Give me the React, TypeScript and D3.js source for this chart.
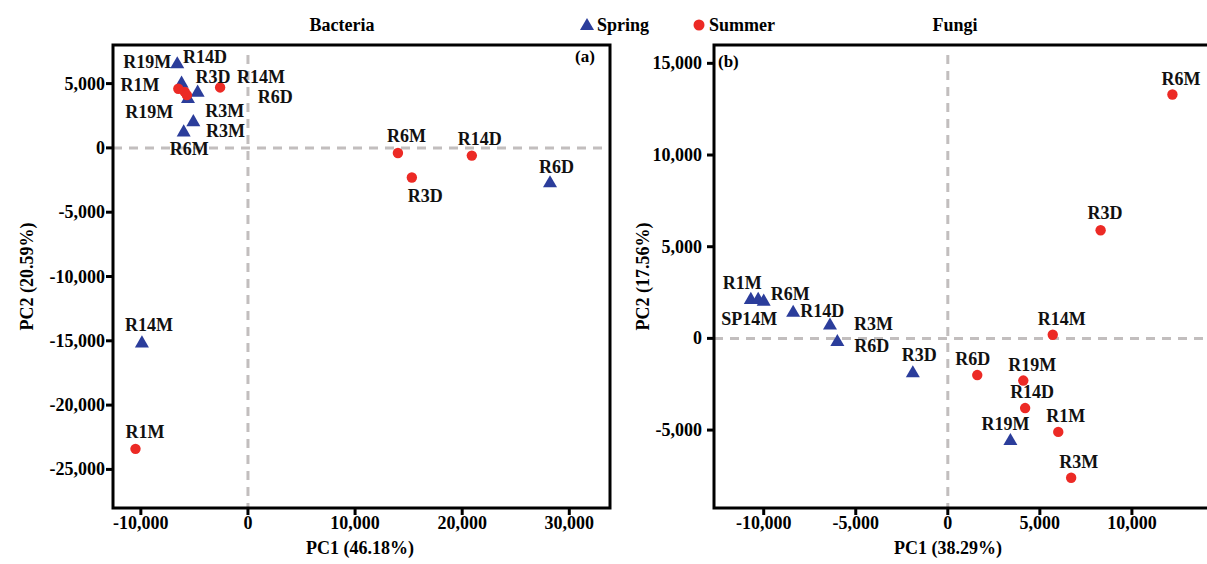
import React from "react";
import * as d3 from "d3";

// ---------- DATA ----------
const bacSpringNames = ["R19M", "R1M", "R3D", "R14D", "R3M", "R6M", "R6D", "R14M"];
const bacSpringX = [-6600, -6200, -4700, -5600, -5100, -6000, 28200, -9900];
const bacSpringY = [6500, 5000, 4300, 3800, 2000, 1200, -2750, -15200];

const bacSummerNames = ["R19M", "R6D", "R3M", "R14M", "R6M", "R3D", "R14D", "R1M"];
const bacSummerX = [-6500, -5900, -5700, -2600, 14000, 15300, 20900, -10500];
const bacSummerY = [4600, 4350, 4100, 4700, -400, -2300, -600, -23400];

const funSpringNames = ["R1M", "SP14M", "R6M", "R14D", "R3M", "R6D", "R3D", "R19M"];
const funSpringX = [-10700, -10300, -10000, -8400, -6400, -6000, -1900, 3400];
const funSpringY = [2100, 2100, 2000, 1400, 700, -200, -1900, -5600];

const funSummerNames = ["R6M", "R3D", "R14M", "R6D", "R19M", "R14D", "R1M", "R3M"];
const funSummerX = [12200, 8300, 5700, 1600, 4100, 4200, 6000, 6700];
const funSummerY = [13300, 5900, 200, -2000, -2300, -3800, -5100, -7600];

const bacXTicks = [-10000, 0, 10000, 20000, 30000];
const bacYTicks = [5000, 0, -5000, -10000, -15000, -20000, -25000];
const funXTicks = [-10000, -5000, 0, 5000, 10000];
const funYTicks = [15000, 10000, 5000, 0, -5000];

const seriesNames = ["Spring", "Summer"];
const panelTitles = ["Bacteria", "Fungi"];
const panelTags = ["(a)", "(b)"];
const xTitles = ["PC1 (46.18%)", "PC1 (38.29%)"];
const yTitles = ["PC2 (20.59%)", "PC2 (17.56%)"];

// label offsets (px) relative to each point: [dx (left edge), dy (baseline)]
const bacSpringLab = [[-54, 4], [-61, 7], [-2, -10], [-5, -36], [12, -5], [-14, 23], [-11, -10], [-17, -12]];
const bacSummerLab = [[-53, 29], [73, 11], [19, 42], [17, -4], [-11, -11], [-4, 25], [-14, -11], [-10, -11]];
const funSpringLab = [[-28, -11], [-37, 25], [7, -2], [7, 4], [24, 4], [17, 10], [-11, -12], [-29, -11]];
const funSummerLab = [[-11, -10], [-13, -11], [-15, -10], [-22, -10], [-15, -10], [-15, -10], [-12, -10], [-12, -10]];

// ---------- STYLE ----------
const FONT = "'Liberation Serif', 'Times New Roman', serif";
const BLUE = "#2b3d9b";
const RED = "#ec2a25";
const DASH = "#c2bebe";

const fmt = d3
  .formatLocale({ decimal: ".", thousands: ",", grouping: [3], currency: ["$", ""], minus: "-" })
  .format(",");

const triPath = d3.symbol(d3.symbolTriangle, 85)() as string;

type Pt = { name: string; x: number; y: number; lab: number[] };

function build(names: string[], xs: number[], ys: number[], labs: number[][]): Pt[] {
  return names.map((n, i) => ({ name: n, x: xs[i], y: ys[i], lab: labs[i] }));
}

function Panel(props: {
  x0: number; x1: number; y0: number; y1: number;
  xDom: [number, number]; yDom: [number, number];
  xTicks: number[]; yTicks: number[];
  spring: Pt[]; summer: Pt[];
  xTitle: string; yTitle: string; yTitleX: number; xTitleX: number;
  tag: string; tagX: number; tagY: number; yLabEnd: number;
}) {
  const p = props;
  const xs = d3.scaleLinear().domain(p.xDom).range([p.x0, p.x1]);
  const ys = d3.scaleLinear().domain(p.yDom).range([p.y1, p.y0]);
  const zx = xs(0);
  const zy = ys(0);
  return (
    <g>
      {/* zero lines */}
      <line x1={p.x0} x2={p.x1} y1={zy} y2={zy} stroke={DASH} strokeWidth={3} strokeDasharray="9,7" />
      <line x1={zx} x2={zx} y1={p.y0 + 10} y2={p.y1} stroke={DASH} strokeWidth={3} strokeDasharray="9,7" />
      {/* frame */}
      <rect x={p.x0} y={p.y0} width={p.x1 - p.x0} height={p.y1 - p.y0} fill="none" stroke="#000" strokeWidth={3} />
      {/* y ticks */}
      {p.yTicks.map((t) => (
        <g key={"y" + t}>
          <line x1={p.x0 - 7} x2={p.x0} y1={ys(t)} y2={ys(t)} stroke="#000" strokeWidth={3} />
          <text x={p.yLabEnd} y={ys(t) + 6} textAnchor="end" fontSize={18} fontWeight="bold" fontFamily={FONT}>
            {fmt(t)}
          </text>
        </g>
      ))}
      {/* x ticks */}
      {p.xTicks.map((t) => (
        <g key={"x" + t}>
          <line x1={xs(t)} x2={xs(t)} y1={p.y1} y2={p.y1 + 7} stroke="#000" strokeWidth={3} />
          <text x={xs(t)} y={p.y1 + 21} textAnchor="middle" fontSize={18} fontWeight="bold" fontFamily={FONT}>
            {fmt(t)}
          </text>
        </g>
      ))}
      {/* points */}
      {p.spring.map((d, i) => (
        <path key={"s" + i} d={triPath} transform={`translate(${xs(d.x)},${ys(d.y)})`} fill={BLUE} />
      ))}
      {p.summer.map((d, i) => (
        <circle key={"m" + i} cx={xs(d.x)} cy={ys(d.y)} r={5.2} fill={RED} />
      ))}
      {/* labels */}
      {[...p.spring, ...p.summer].map((d, i) => (
        <text key={"l" + i} x={xs(d.x) + d.lab[0]} y={ys(d.y) + d.lab[1]} fontSize={18} fontWeight="bold" fontFamily={FONT} fill="#111">
          {d.name}
        </text>
      ))}
      {/* tag */}
      <text x={p.tagX} y={p.tagY} fontSize={17} fontWeight="bold" fontFamily={FONT}>{p.tag}</text>
      {/* axis titles */}
      <text x={p.xTitleX} y={p.y1 + 46} textAnchor="middle" fontSize={18} fontWeight="bold" fontFamily={FONT}>
        {p.xTitle}
      </text>
      <text
        transform={`translate(${p.yTitleX},${(p.y0 + p.y1) / 2}) rotate(-90)`}
        textAnchor="middle"
        fontSize={18}
        fontWeight="bold"
        fontFamily={FONT}
      >
        {p.yTitle}
      </text>
    </g>
  );
}

export default function App() {
  const bs = build(bacSpringNames, bacSpringX, bacSpringY, bacSpringLab);
  const bm = build(bacSummerNames, bacSummerX, bacSummerY, bacSummerLab);
  const fs = build(funSpringNames, funSpringX, funSpringY, funSpringLab);
  const fm = build(funSummerNames, funSummerX, funSummerY, funSummerLab);
  return (
    <svg
      width={1207}
      height={564}
      style={{ position: "absolute", left: 0, top: 0, background: "#fff" }}
    >
      <rect width={1207} height={564} fill="#fff" />
      {/* titles */}
      <text x={342} y={31} textAnchor="middle" fontSize={18} fontWeight="bold" fontFamily={FONT}>{panelTitles[0]}</text>
      <text x={955} y={31} textAnchor="middle" fontSize={18} fontWeight="bold" fontFamily={FONT}>{panelTitles[1]}</text>
      {/* legend */}
      <path d={triPath} transform="translate(587,26)" fill={BLUE} />
      <text x={597} y={31} fontSize={18} fontWeight="bold" fontFamily={FONT}>{seriesNames[0]}</text>
      <circle cx={699} cy={25} r={5.5} fill={RED} />
      <text x={709} y={31} fontSize={18} fontWeight="bold" fontFamily={FONT}>{seriesNames[1]}</text>

      <Panel
        x0={113} x1={610} y0={45} y1={508}
        xDom={[-12600, 33800]} yDom={[-28000, 8000]}
        xTicks={bacXTicks} yTicks={bacYTicks}
        spring={bs} summer={bm}
        xTitle={xTitles[0]} yTitle={yTitles[0]} yTitleX={33} xTitleX={360}
        tag={panelTags[0]} tagX={575} tagY={62} yLabEnd={105}
      />
      <Panel
        x0={714} x1={1212} y0={45} y1={508}
        xDom={[-12700, 14350]} yDom={[-9250, 16000]}
        xTicks={funXTicks} yTicks={funYTicks}
        spring={fs} summer={fm}
        xTitle={xTitles[1]} yTitle={yTitles[1]} yTitleX={649} xTitleX={948}
        tag={panelTags[1]} tagX={718} tagY={67} yLabEnd={702}
      />
    </svg>
  );
}
